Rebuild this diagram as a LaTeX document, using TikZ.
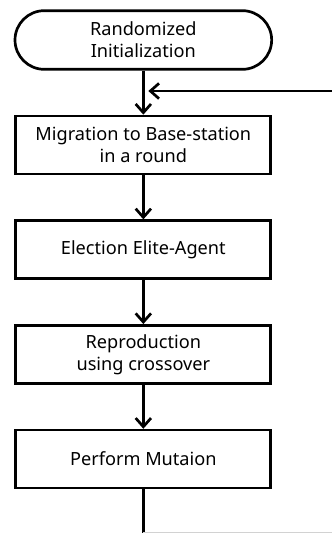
\documentclass[tikz,border=0pt]{standalone}
\usepackage{fontspec}
\setmainfont{Noto Sans}
\usetikzlibrary{positioning}
\usetikzlibrary{shapes.geometric, arrows, arrows.meta}

\tikzset{
    startstop/.style={rectangle, rounded corners=0.88cm, minimum width=7.7cm, minimum height=1.76cm, text centered, draw=black, line width=2.3pt, align=center, font=\fontsize{15.5}{19}\selectfont},
    process/.style={rectangle, minimum width=7.65cm, minimum height=1.74cm, text centered, draw=black, line width=2.3pt, align=center, font=\fontsize{15.5}{19}\selectfont},
    arrow/.style={line width=2.3pt, -{Straight Barb[length=2.6mm, width=4.6mm, line width=2.3pt]}}
}

\begin{document}
\begin{tikzpicture}[node distance=1.32cm]
    \useasboundingbox (0,0) rectangle (9.96,-15.99);
    % flowchart nodes
    \node (init) [startstop] at (4.3,-1.2) {Randomized\\Initialization};
    \node (migrate) [process, below=of init] {Migration to Base-station\\in a round};
    \node (elect) [process, below=of migrate] {Election Elite-Agent};
    \node (repro) [process, below=of elect] {Reproduction\\using crossover};
    \node (mutate) [process, below=of repro] {Perform Mutaion};
    % loop back
    \coordinate (back) at (9.96,-2.73);
    \coordinate (bottom) at (mutate.south |- 0,-15.99);
    \coordinate (corner) at (9.96,-15.96);
    % connectors
    \draw [arrow] (init) -- (migrate);
    \draw [arrow] (migrate) -- (elect);
    \draw [arrow] (elect) -- (repro);
    \draw [arrow] (repro) -- (mutate);
    \draw [arrow, shorten >=0.15cm] (back) -- (init.south |- back);
    \draw [line width=2.3pt] (mutate) -- (bottom);
    \draw [gray!35, line width=0.4pt] (bottom |- corner) -- (corner);
\end{tikzpicture}
\end{document}
